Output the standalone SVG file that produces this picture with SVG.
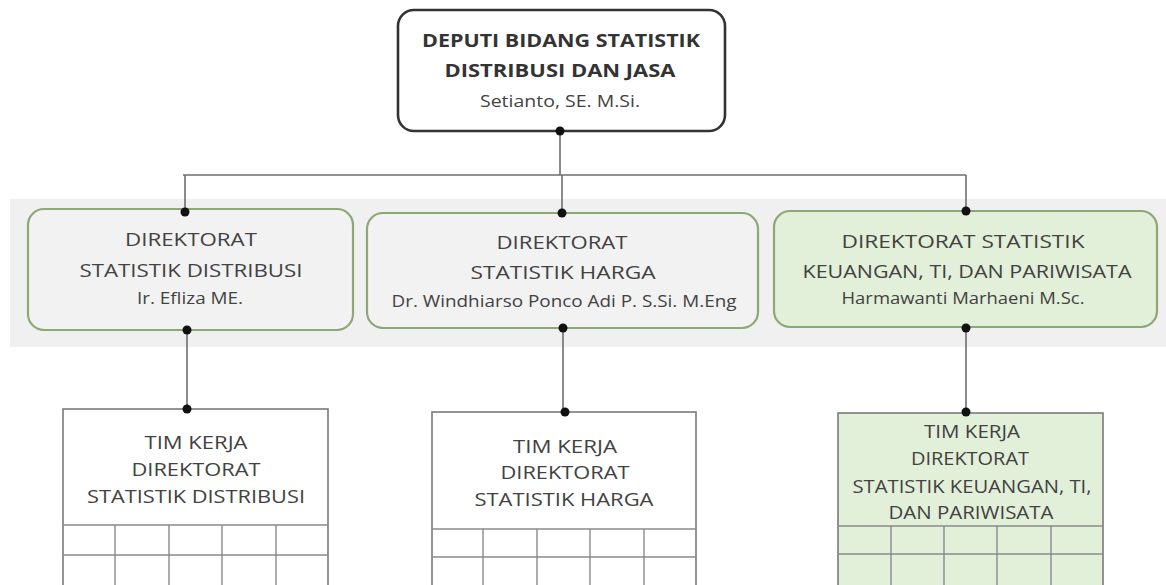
<svg xmlns="http://www.w3.org/2000/svg" width="1166" height="585" viewBox="0 0 1166 585">
<style>
text{font-family:"Open Sans",Lato,"Liberation Sans",sans-serif;fill:#424242;text-anchor:middle}
.h{font-size:19px}
.n{font-size:15.5px}
.t{font-size:17.5px;font-weight:bold;fill:#333}
.dir{stroke:#8ea777;stroke-width:2.2}
.tim{stroke:#7a7a7a;stroke-width:1.6}
.grid{stroke:#8a8a8a;stroke-width:1.4;fill:none}
.c{stroke:#6f6f6f;stroke-width:1.6;fill:none}
.dot{fill:#111}
</style>
<rect x="0" y="0" width="1166" height="585" fill="#fff"/>
<rect x="10" y="199" width="1156" height="148" fill="#f0f0f0"/>
<g id="connectors">
<path class="c" d="M560 131V175M183 175H966M562 175V213M185 175V212M966 175V211M187 330V409M563 328V412M966 328V412"/>
</g>
<g id="deputi">
<rect x="398" y="10" width="327" height="121" rx="16" fill="#fff" stroke="#333" stroke-width="2.6"/>
<text class="t" x="561" y="47" textLength="278" lengthAdjust="spacingAndGlyphs">DEPUTI BIDANG STATISTIK</text>
<text class="t" x="560" y="77" textLength="231" lengthAdjust="spacingAndGlyphs">DISTRIBUSI DAN JASA</text>
<text class="n" x="560" y="107" textLength="160" lengthAdjust="spacingAndGlyphs">Setianto, SE. M.Si.</text>
</g>
<g id="dir-distribusi">
<rect class="dir" x="28" y="209" width="325" height="121" rx="16" fill="#f2f2f2"/>
<text class="h" x="191" y="246" textLength="132" lengthAdjust="spacingAndGlyphs">DIREKTORAT</text>
<text class="h" x="191" y="277" textLength="223" lengthAdjust="spacingAndGlyphs">STATISTIK DISTRIBUSI</text>
<text class="n" x="190" y="304" textLength="106" lengthAdjust="spacingAndGlyphs">Ir. Efliza ME.</text>
</g>
<g id="dir-harga">
<rect class="dir" x="367" y="213" width="391" height="115" rx="16" fill="#f2f2f2"/>
<text class="h" x="562" y="249" textLength="131" lengthAdjust="spacingAndGlyphs">DIREKTORAT</text>
<text class="h" x="563" y="279" textLength="185" lengthAdjust="spacingAndGlyphs">STATISTIK HARGA</text>
<text class="n" x="564" y="307" textLength="345" lengthAdjust="spacingAndGlyphs">Dr. Windhiarso Ponco Adi P. S.Si. M.Eng</text>
</g>
<g id="dir-keuangan">
<rect class="dir" x="774" y="211" width="383" height="116" rx="16" fill="#e2efd9"/>
<text class="h" x="963" y="248" textLength="243" lengthAdjust="spacingAndGlyphs">DIREKTORAT STATISTIK</text>
<text class="h" x="967" y="278" textLength="329" lengthAdjust="spacingAndGlyphs">KEUANGAN, TI, DAN PARIWISATA</text>
<text class="n" x="963" y="304" textLength="243" lengthAdjust="spacingAndGlyphs">Harmawanti Marhaeni M.Sc.</text>
</g>
<g id="tim-distribusi">
<rect class="tim" x="63" y="409" width="265" height="190" fill="#fff"/>
<path class="grid" d="M63 525H328M63 555H328M115 525V590M169 525V590M222 525V590M276 525V590"/>
<text class="h" x="196" y="449" textLength="103" lengthAdjust="spacingAndGlyphs">TIM KERJA</text>
<text class="h" x="196" y="476" textLength="129" lengthAdjust="spacingAndGlyphs">DIREKTORAT</text>
<text class="h" x="196" y="503" textLength="218" lengthAdjust="spacingAndGlyphs">STATISTIK DISTRIBUSI</text>
</g>
<g id="tim-harga">
<rect class="tim" x="432" y="412" width="264" height="190" fill="#fff"/>
<path class="grid" d="M432 529H696M432 557H696M483 529V590M537 529V590M590 529V590M644 529V590"/>
<text class="h" x="565" y="453" textLength="104" lengthAdjust="spacingAndGlyphs">TIM KERJA</text>
<text class="h" x="565" y="479" textLength="129" lengthAdjust="spacingAndGlyphs">DIREKTORAT</text>
<text class="h" x="564" y="506" textLength="179" lengthAdjust="spacingAndGlyphs">STATISTIK HARGA</text>
</g>
<g id="tim-keuangan">
<rect class="tim" x="838" y="413" width="265" height="190" fill="#e2efd9"/>
<path class="grid" d="M838 526H1103M838 554H1103M891 526V590M944 526V590M997 526V590M1051 526V590"/>
<text class="h" x="972" y="438" textLength="96" lengthAdjust="spacingAndGlyphs">TIM KERJA</text>
<text class="h" x="970" y="465" textLength="118" lengthAdjust="spacingAndGlyphs">DIREKTORAT</text>
<text class="h" x="972" y="493" textLength="239" lengthAdjust="spacingAndGlyphs">STATISTIK KEUANGAN, TI,</text>
<text class="h" x="971" y="519" textLength="165" lengthAdjust="spacingAndGlyphs">DAN PARIWISATA</text>
</g>
<g id="dots">
<circle class="dot" cx="560" cy="131" r="4.5"/>
<circle class="dot" cx="185" cy="212" r="4.5"/>
<circle class="dot" cx="562" cy="213" r="4.5"/>
<circle class="dot" cx="966" cy="211" r="4.5"/>
<circle class="dot" cx="187" cy="330" r="4.5"/>
<circle class="dot" cx="563" cy="328" r="4.5"/>
<circle class="dot" cx="966" cy="328" r="4.5"/>
<circle class="dot" cx="187" cy="409" r="4.5"/>
<circle class="dot" cx="565" cy="412" r="4.5"/>
<circle class="dot" cx="966" cy="412" r="4.5"/>
</g>
</svg>
